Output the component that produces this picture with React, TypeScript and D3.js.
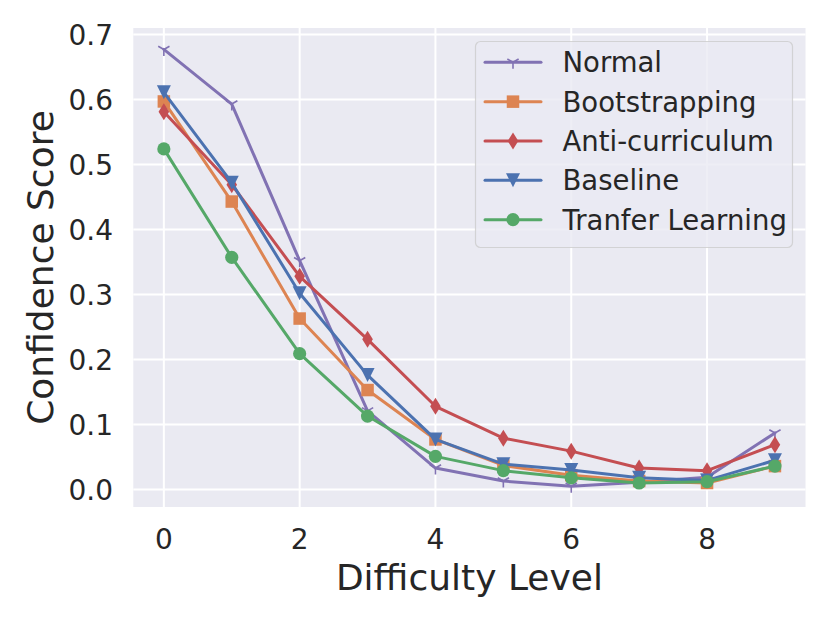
import React, { useEffect, useRef } from 'react';
import * as d3 from 'd3';

const levels = [0, 1, 2, 3, 4, 5, 6, 7, 8, 9];
const normal = [0.677, 0.593, 0.352, 0.121, 0.033, 0.013, 0.005, 0.011, 0.019, 0.087];
const bootstrapping = [0.597, 0.443, 0.263, 0.153, 0.077, 0.037, 0.022, 0.013, 0.010, 0.036];
const antiCurriculum = [0.581, 0.469, 0.328, 0.231, 0.128, 0.079, 0.059, 0.033, 0.029, 0.069];
const baseline = [0.611, 0.472, 0.302, 0.176, 0.077, 0.039, 0.030, 0.018, 0.014, 0.045];
const transfer = [0.524, 0.357, 0.209, 0.113, 0.051, 0.029, 0.018, 0.010, 0.012, 0.036];

const xTicks = [0, 2, 4, 6, 8];
const yTicks = [0, 0.1, 0.2, 0.3, 0.4, 0.5, 0.6, 0.7];

const series = [
  { name: 'Normal', values: normal, color: '#8172b3', marker: 'tri' },
  { name: 'Bootstrapping', values: bootstrapping, color: '#dd8452', marker: 'square' },
  { name: 'Anti-curriculum', values: antiCurriculum, color: '#c44e52', marker: 'diamond' },
  { name: 'Baseline', values: baseline, color: '#4c72b0', marker: 'triDown' },
  { name: 'Tranfer Learning', values: transfer, color: '#55a868', marker: 'circle' },
];

const FONT = '"DejaVu Sans", sans-serif';

// draw one marker centred at (cx, cy)
function drawMarker(g: any, kind: string, cx: number, cy: number, color: string) {
  if (kind === 'tri') {
    const r = 6.5;
    const p = `M${cx},${cy}L${cx},${cy + r}M${cx},${cy}L${cx - r * 0.866},${cy - r * 0.5}M${cx},${cy}L${cx + r * 0.866},${cy - r * 0.5}`;
    g.append('path').attr('d', p).attr('stroke', color).attr('stroke-width', 1.6).attr('fill', 'none');
  } else if (kind === 'square') {
    const s = 12.5;
    g.append('rect').attr('x', cx - s / 2).attr('y', cy - s / 2).attr('width', s).attr('height', s).attr('fill', color);
  } else if (kind === 'diamond') {
    const h = 8.5, w = 5.3;
    g.append('path').attr('d', `M${cx},${cy - h}L${cx + w},${cy}L${cx},${cy + h}L${cx - w},${cy}Z`).attr('fill', color);
  } else if (kind === 'triDown') {
    const s = 7;
    g.append('path').attr('d', `M${cx - s},${cy - s}L${cx + s},${cy - s}L${cx},${cy + s}Z`).attr('fill', color);
  } else {
    g.append('circle').attr('cx', cx).attr('cy', cy).attr('r', 6.6).attr('fill', color);
  }
}

const App: React.FC = () => {
  const svgRef = useRef<SVGSVGElement>(null);

  useEffect(() => {
    if (!svgRef.current) return;
    const svg = d3.select(svgRef.current);
    svg.selectAll('*').remove();

    const left = 133.3, right = 805.5, top = 28, bottom = 507;
    const x = d3.scaleLinear().domain([-0.45, 9.45]).range([left, right]);
    const y = d3.scaleLinear().domain([0, 0.7]).range([489.5, 34.5]);

    svg.append('rect')
      .attr('x', left).attr('y', top)
      .attr('width', right - left).attr('height', bottom - top)
      .attr('fill', '#eaeaf2');

    // grid
    const grid = svg.append('g').attr('stroke', '#ffffff').attr('stroke-width', 2);
    xTicks.forEach((t) => {
      grid.append('line').attr('x1', x(t)).attr('x2', x(t)).attr('y1', top).attr('y2', bottom);
    });
    yTicks.forEach((t) => {
      grid.append('line').attr('x1', left).attr('x2', right).attr('y1', y(t)).attr('y2', y(t));
    });

    // tick labels
    xTicks.forEach((t) => {
      svg.append('text')
        .attr('x', x(t)).attr('y', 549)
        .attr('text-anchor', 'middle')
        .attr('font-family', FONT).attr('font-size', 28).attr('fill', '#262626')
        .text(String(t));
    });
    yTicks.forEach((t) => {
      svg.append('text')
        .attr('x', 113).attr('y', y(t)).attr('dy', '0.36em')
        .attr('text-anchor', 'end')
        .attr('font-family', FONT).attr('font-size', 28).attr('fill', '#262626')
        .text(t.toFixed(1));
    });

    // axis labels
    svg.append('text')
      .attr('x', (left + right) / 2).attr('y', 590)
      .attr('text-anchor', 'middle')
      .attr('font-family', FONT).attr('font-size', 36).attr('fill', '#262626')
      .text('Difficulty Level');
    svg.append('text')
      .attr('transform', `translate(53,${(top + bottom) / 2}) rotate(-90)`)
      .attr('text-anchor', 'middle')
      .attr('font-family', FONT).attr('font-size', 36).attr('fill', '#262626')
      .text('Confidence Score');

    // lines + markers
    const line = d3.line<number>().x((_, i) => x(levels[i])).y((d) => y(d));
    series.forEach((s) => {
      const g = svg.append('g');
      g.append('path')
        .attr('d', line(s.values))
        .attr('fill', 'none')
        .attr('stroke', s.color)
        .attr('stroke-width', 3)
        .attr('stroke-linejoin', 'round')
        .attr('stroke-linecap', 'round');
      s.values.forEach((v, i) => drawMarker(g, s.marker, x(levels[i]), y(v), s.color));
    });

    // legend
    const lg = svg.append('g');
    lg.append('rect')
      .attr('x', 475.5).attr('y', 41.5)
      .attr('width', 317).attr('height', 206)
      .attr('rx', 5)
      .attr('fill', '#eaeaf2').attr('fill-opacity', 0.8)
      .attr('stroke', '#cccccc').attr('stroke-opacity', 0.8).attr('stroke-width', 1.2);
    series.forEach((s, i) => {
      const ly = 62.3 + i * 39.35;
      lg.append('line')
        .attr('x1', 485).attr('x2', 541).attr('y1', ly).attr('y2', ly)
        .attr('stroke', s.color).attr('stroke-width', 3).attr('stroke-linecap', 'round');
      drawMarker(lg, s.marker, 513, ly, s.color);
      lg.append('text')
        .attr('x', 562.5).attr('y', ly).attr('dy', '0.36em')
        .attr('font-family', FONT).attr('font-size', 27.5).attr('fill', '#262626')
        .text(s.name);
    });
  }, []);

  return (
    <svg
      ref={svgRef}
      width={830}
      height={623}
      style={{ position: 'absolute', left: 0, top: 0, background: '#ffffff' }}
    />
  );
};

export default App;
